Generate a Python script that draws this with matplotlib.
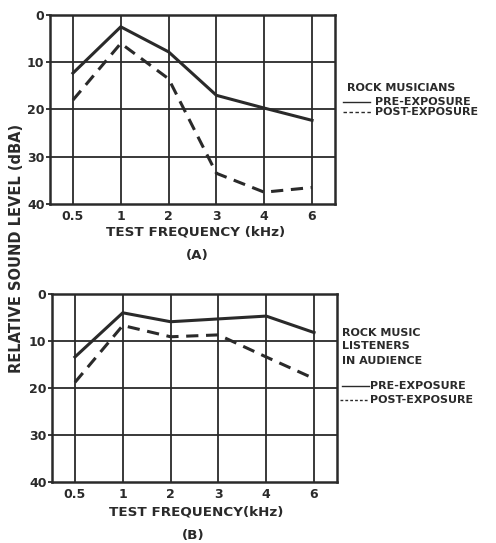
import matplotlib
matplotlib.use("Agg")
import matplotlib.pyplot as plt

plt.rcParams['font.family'] = ['DejaVu Sans']

freq_labels = ["0.5", "1", "2", "3", "4", "6"]
yticks = [0, 10, 20, 30, 40]

musicians_pre = [12.3, 2.5, 7.8, 17.0, 19.7, 22.3]
musicians_post = [18.0, 6.0, 13.5, 33.5, 37.5, 36.5]

listeners_pre = [13.4, 4.0, 5.9, 5.3, 4.7, 8.2]
listeners_post = [18.8, 6.7, 9.1, 8.7, 13.4, 18.0]

INK = "#2a2a2a"
W, H = 496, 543
fig = plt.figure(figsize=(W / 100, H / 100), dpi=100)

def make_ax(left, top, right, bottom):
    return fig.add_axes([left / W, 1 - bottom / H, (right - left) / W, (bottom - top) / H])

def style(ax, pre, post):
    x = list(range(len(freq_labels)))
    ax.set_xlim(-0.48, len(freq_labels) - 1 + 0.48)
    ax.set_ylim(40, 0)
    for xi in x:
        ax.axvline(xi, color=INK, lw=1.3, zorder=1)
    for yv in [10, 20, 30]:
        ax.axhline(yv, color=INK, lw=1.3, zorder=1)
    ax.plot(x, pre, color=INK, lw=2.2, solid_joinstyle='miter', zorder=3)
    ax.plot(x, post, color=INK, lw=2.2, dashes=(4, 2.5), zorder=3)
    ax.set_xticks(x)
    ax.set_xticklabels(freq_labels, fontsize=9, fontweight='bold', color=INK)
    ax.set_yticks(yticks)
    ax.set_yticklabels([str(v) for v in yticks], fontsize=9, fontweight='bold', color=INK)
    ax.tick_params(axis='x', length=0, pad=4)
    ax.tick_params(axis='y', length=3, width=1.3, color=INK, pad=1)
    for s in ax.spines.values():
        s.set_color(INK)
        s.set_linewidth(1.8)

ax1 = make_ax(50, 15, 335, 204)
style(ax1, musicians_pre, musicians_post)
ax2 = make_ax(52, 294, 337, 482)
style(ax2, listeners_pre, listeners_post)

fig.text(196 / W, 1 - 232 / H, "TEST FREQUENCY (kHz)", ha='center', va='center',
         fontsize=9.7, fontweight='bold', color=INK)
fig.text(197 / W, 1 - 255 / H, "(A)", ha='center', va='center',
         fontsize=9.7, fontweight='bold', color=INK)
fig.text(196 / W, 1 - 512 / H, "TEST FREQUENCY(kHz)", ha='center', va='center',
         fontsize=9.7, fontweight='bold', color=INK)
fig.text(193 / W, 1 - 535 / H, "(B)", ha='center', va='center',
         fontsize=9.7, fontweight='bold', color=INK)

fig.text(17 / W, 1 - 248 / H, "RELATIVE SOUND LEVEL (dBA)", ha='center', va='center',
         rotation=90, fontsize=10.5, fontweight='bold', color=INK)

# legend A
fig.text(347 / W, 1 - 88 / H, "ROCK MUSICIANS", ha='left', va='center',
         fontsize=8, fontweight='bold', color=INK)
fig.text(375 / W, 1 - 102 / H, "PRE-EXPOSURE", ha='left', va='center',
         fontsize=8, fontweight='bold', color=INK)
fig.text(375 / W, 1 - 112 / H, "POST-EXPOSURE", ha='left', va='center',
         fontsize=8, fontweight='bold', color=INK)
fig.lines.append(plt.Line2D([343 / W, 370 / W], [1 - 102 / H, 1 - 102 / H],
                            transform=fig.transFigure, color=INK, lw=1.0))
fig.lines.append(plt.Line2D([343 / W, 372 / W], [1 - 112 / H, 1 - 112 / H],
                            transform=fig.transFigure, color=INK, lw=1.0, dashes=(2.5, 1.8)))

# legend B
for txt, yy in [("ROCK MUSIC", 333), ("LISTENERS", 346), ("IN AUDIENCE", 361)]:
    fig.text(342 / W, 1 - yy / H, txt, ha='left', va='center',
             fontsize=8, fontweight='bold', color=INK)
fig.text(370 / W, 1 - 386 / H, "PRE-EXPOSURE", ha='left', va='center',
         fontsize=8, fontweight='bold', color=INK)
fig.text(370 / W, 1 - 400 / H, "POST-EXPOSURE", ha='left', va='center',
         fontsize=8, fontweight='bold', color=INK)
fig.lines.append(plt.Line2D([342 / W, 369 / W], [1 - 386 / H, 1 - 386 / H],
                            transform=fig.transFigure, color=INK, lw=1.0))
fig.lines.append(plt.Line2D([340 / W, 369 / W], [1 - 400 / H, 1 - 400 / H],
                            transform=fig.transFigure, color=INK, lw=1.0, dashes=(2.0, 1.5)))

fig.savefig("out.png", dpi=100)
